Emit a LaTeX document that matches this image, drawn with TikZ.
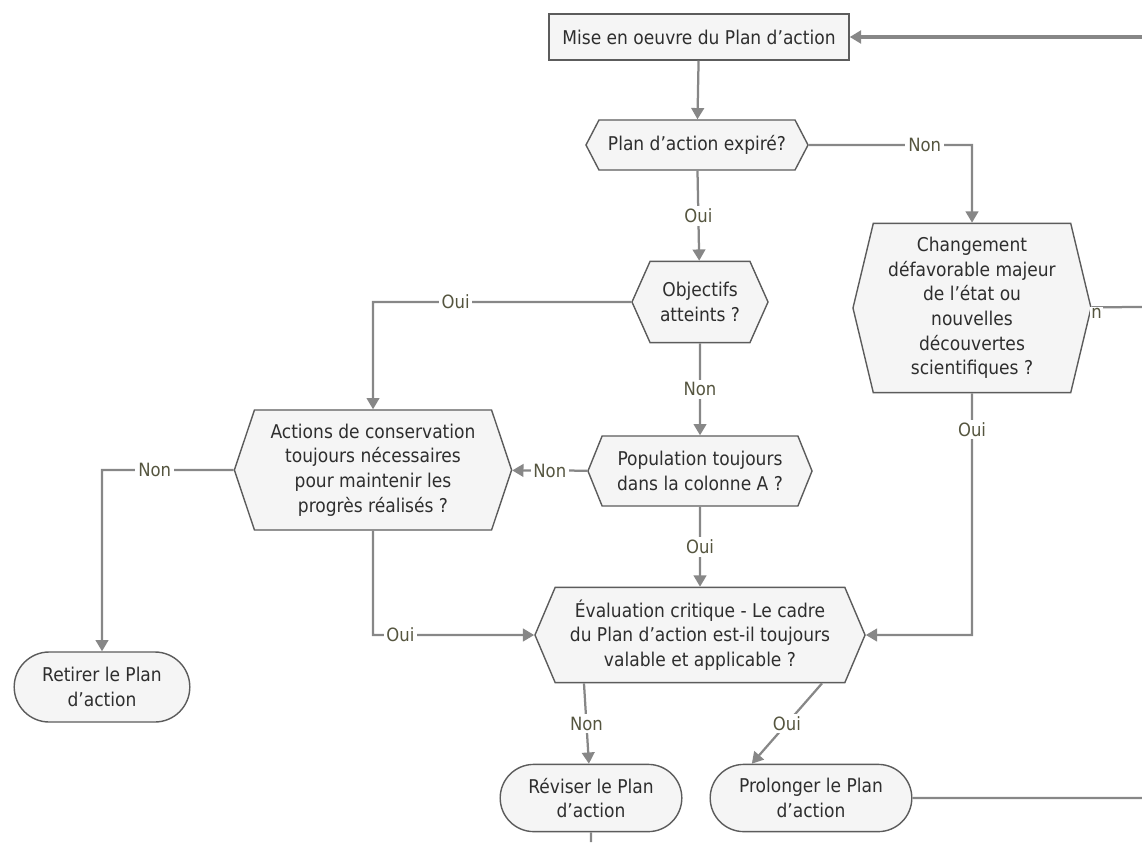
\documentclass[tikz,border=0pt]{standalone}
\usepackage{fontspec}
\setmainfont{DejaVu Sans Condensed}
\usepackage{xcolor}
\usetikzlibrary{shapes.symbols,shapes.misc,arrows.meta}

\definecolor{bord}{HTML}{5C5C5C}
\definecolor{fond}{HTML}{F5F5F5}
\definecolor{trait}{HTML}{878787}
\definecolor{texterep}{HTML}{55553F}
\definecolor{texte}{HTML}{2E2E2E}

\tikzset{
  etape/.style={draw=bord, fill=fond, text=texte, line width=1pt, inner sep=2pt, align=center,
                font=\fontsize{13.5}{17.5}\selectfont},
  question/.style={etape, shape=signal, signal to=east and west},
  fin/.style={etape, rounded rectangle},
  fleche/.style={draw=trait, line width=1.6pt, -{Triangle[length=8pt,width=9pt]}},
  ligne/.style={draw=trait, line width=1.6pt},
  rep/.style={fill=white, text=texterep, inner sep=2pt, font=\fontsize{13}{15}\selectfont}
}

\begin{document}
\begin{tikzpicture}[x=0.025cm, y=-0.025cm]
  \useasboundingbox (0,0) rectangle (1142,842);

  \node[etape, minimum width=7.5cm, minimum height=1.15cm] (mise) at (699,37) {Mise en oeuvre du Plan d'action};
  \node[question, signal pointer angle=125, minimum width=5.55cm, minimum height=1.25cm] (expire) at (697,145) {Plan d'action expiré?};
  \node[question, signal pointer angle=132, minimum width=3.4cm, minimum height=2.03cm] (objectifs) at (700,302) {Objectifs\\atteints ?};
  \node[question, signal pointer angle=136, minimum width=5.6cm, minimum height=1.75cm] (population) at (700,471) {Population toujours\\dans la colonne A ?};
  \node[question, signal pointer angle=143, minimum width=6.93cm, minimum height=3cm] (actions) at (373,470) {Actions de conservation\\toujours nécessaires\\pour maintenir les\\progrès réalisés ?};
  \node[question, signal pointer angle=153, minimum width=5.95cm, minimum height=4.23cm] (changement) at (972,308) {Changement\\défavorable majeur\\de l'état ou\\nouvelles\\découvertes\\scientifiques ?};
  \node[question, signal pointer angle=134, minimum width=8.25cm, minimum height=2.38cm] (evaluation) at (700,635) {Évaluation critique - Le cadre\\du Plan d'action est-il toujours\\valable et applicable ?};
  \node[fin, minimum width=4.53cm, minimum height=1.75cm] (retirer) at (102,687) {Retirer le Plan\\d'action};
  \node[fin, minimum width=4.68cm, minimum height=1.68cm] (reviser) at (591,798) {Réviser le Plan\\d'action};
  \node[fin, minimum width=5.18cm, minimum height=1.68cm] (prolonger) at (811,798) {Prolonger le Plan\\d'action};

  \coordinate (retour) at (1142,37);
  \coordinate (sortiechg) at (1142,307);
  \coordinate (sortiepro) at (1142,798);
  \coordinate (sortierev) at (591,842);

  \draw[fleche, line width=2.4pt] (retour) -- (mise);
  \draw[fleche] (mise) -- (expire);
  \draw[fleche] (expire) -- node[rep, pos=0.71]{Non} (expire -| changement) -- (changement);
  \draw[fleche] (expire) -- node[rep]{Oui} (objectifs);
  \draw[fleche] (objectifs) -- node[rep, pos=0.68]{Oui} (objectifs -| actions) -- (actions);
  \draw[fleche] (objectifs) -- node[rep]{Non} (population);
  \draw[fleche] (population) -- node[rep]{Non} (actions);
  \draw[fleche] (actions) -- node[rep, pos=0.6]{Non} (actions -| retirer) -- (retirer);
  \draw[fleche] (actions) -- (actions |- evaluation) -- node[rep, pos=0.17]{Oui} (evaluation);
  \draw[fleche] (population) -- node[rep]{Oui} (evaluation);
  \draw[fleche] (changement) -- node[rep, pos=0.15]{Oui} (changement |- evaluation) -- (evaluation);
  \draw[fleche] ([xshift=-2.9cm]evaluation.south) -- node[rep]{Non} (reviser);
  \draw[fleche] ([xshift=3.05cm]evaluation.south) -- node[rep]{Oui} ([xshift=-1.48cm]prolonger.north);
  \draw[ligne] (prolonger) -- (sortiepro);
  \draw[ligne] (reviser) -- (sortierev);
  \draw[ligne] (changement) -- node[rep, pos=0.1, yshift=-0.15cm, inner sep=1pt]{n} (sortiechg);
  \draw[trait!40, line width=0.6pt] (sortiechg) -- (sortiepro);
\end{tikzpicture}
\end{document}
